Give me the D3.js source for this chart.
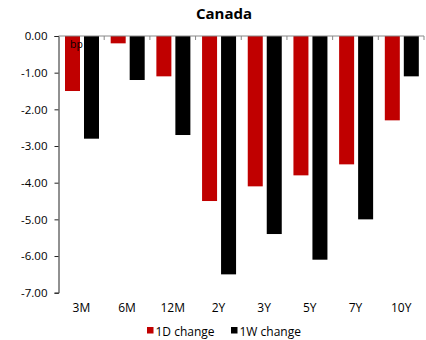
<!DOCTYPE html>
<html><head><meta charset="utf-8">
<script src="https://cdn.jsdelivr.net/npm/d3@7/dist/d3.min.js"></script>
<style>body{margin:0;background:#fff}svg{display:block}text{font-family:"Open Sans",sans-serif}</style>
</head><body><svg id="c" width="426" height="340"></svg>
<script>
const categories = ["3M","6M","12M","2Y","3Y","5Y","7Y","10Y"];
const series = ["1D change","1W change"];
const values1D = [-1.5,-0.2,-1.1,-4.5,-4.1,-3.8,-3.5,-2.3];
const values1W = [-2.8,-1.2,-2.7,-6.5,-5.4,-6.1,-5.0,-1.1];
const yTicks = [0,-1,-2,-3,-4,-5,-6,-7];
const colors = ["#C00000","#000000"];

(function(){
const svg = d3.select("#c");
const pLeft = 58.5, pRight = 424, pTop = 36, pBottom = 292.7;
const x = d3.scaleBand().domain(categories).range([pLeft, pRight]);
const x1 = d3.scaleBand().domain(series).range([6.5, 40.5]).paddingInner(0.21);
const y = d3.scaleLinear().domain([-7,0]).range([pBottom, pTop]);

svg.append("text").attr("x",224).attr("y",18.5).attr("text-anchor","middle")
  .attr("font-weight","bold").attr("font-size",15).attr("fill","#000").text("Canada");

const data = categories.map((c,i)=>({c, v:[values1D[i], values1W[i]]}));
const g = svg.append("g");
data.forEach(d=>{
  series.forEach((s,j)=>{
    g.append("rect").attr("x", x(d.c)+x1(s)).attr("width", x1.bandwidth())
     .attr("y", y(0)).attr("height", y(d.v[j]) - y(0)).attr("fill", colors[j]);
  });
});

const ya = svg.append("g").attr("transform",`translate(${pLeft},0)`)
  .call(d3.axisLeft(y).tickValues(yTicks).tickFormat(d=>d3.format(".2f")(d).replace("−","-")).tickSize(4).tickPadding(7));
ya.select(".domain").attr("stroke","#222");
ya.selectAll(".tick line").attr("stroke","#222");
ya.selectAll("text").attr("font-size",11.5).attr("fill","#000");

const xa = svg.append("g").attr("transform",`translate(0,${y(0)})`);
xa.append("line").attr("x1",pLeft).attr("x2",pRight).attr("stroke","#888");
categories.forEach(c=>{
  xa.append("line").attr("x1",x(c)+x.bandwidth()).attr("x2",x(c)+x.bandwidth())
    .attr("y1",0).attr("y2",4).attr("stroke","#888");
});
const xl = svg.append("g").attr("transform",`translate(0,${pBottom})`)
  .call(d3.axisBottom(x).tickSize(0).tickPadding(11));
xl.select(".domain").remove();
xl.selectAll("text").attr("font-size",12).attr("fill","#000");

svg.append("text").attr("x",70).attr("y",48).attr("font-size",10.5).attr("fill","#000").text("bp");

const leg = svg.append("g");
const legX = [147, 231];
series.forEach((s,j)=>{
  leg.append("rect").attr("x",legX[j]).attr("y",327).attr("width",6.5).attr("height",6.5).attr("fill",colors[j]);
  leg.append("text").attr("x",legX[j]+8.5).attr("y",335.5).attr("font-size",12).attr("fill","#000").text(s);
});
})();
</script></body></html>
